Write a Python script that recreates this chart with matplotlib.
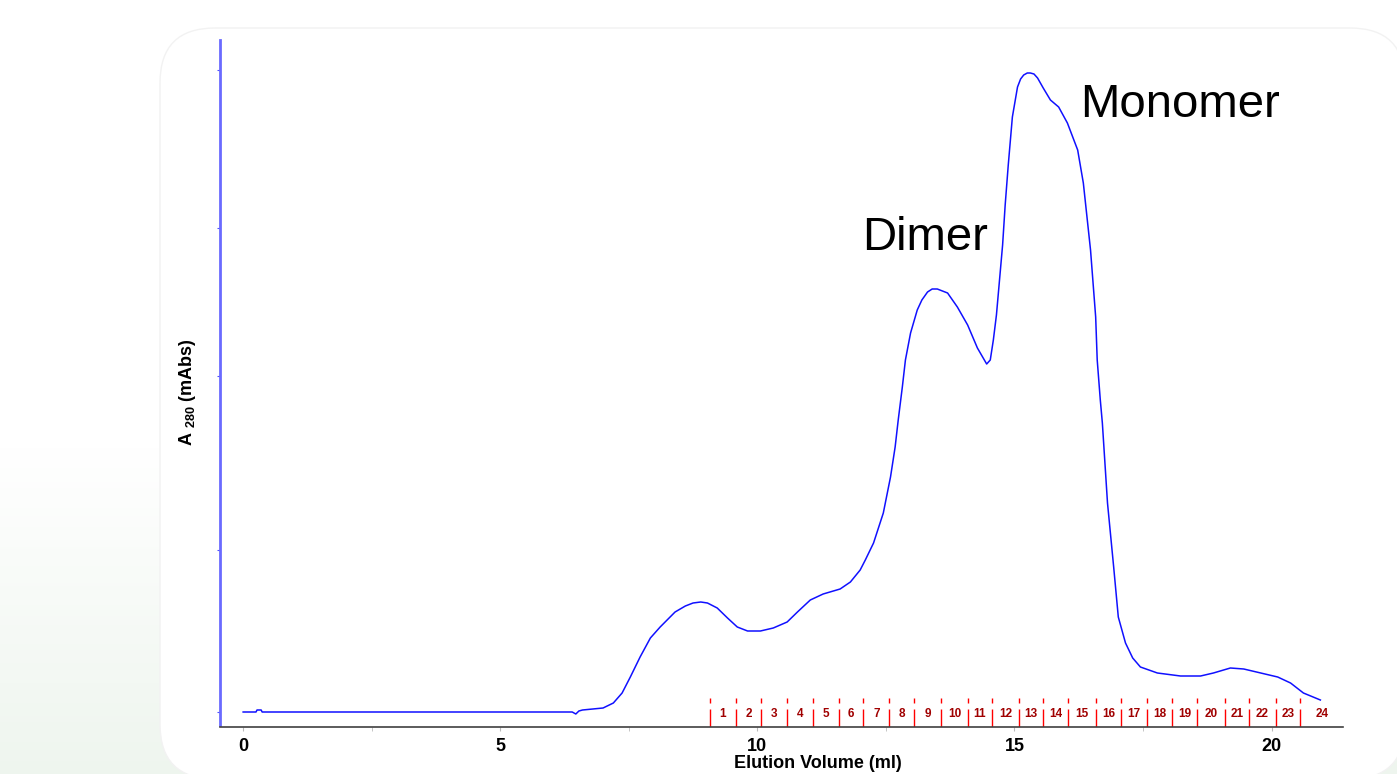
import matplotlib.pyplot as plt
import numpy as np
from matplotlib.patches import FancyBboxPatch
from matplotlib.transforms import IdentityTransform

plt.rcParams["font.family"] = ["Liberation Sans", "DejaVu Sans"]
plt.rcParams["mathtext.fontset"] = "custom"
plt.rcParams["mathtext.bf"] = "Liberation Sans:bold"
plt.rcParams["mathtext.rm"] = "Liberation Sans"

# elution volume (ml) and A280 (mAbs)
volume = [0.00, 0.25, 0.27, 0.35, 0.37, 6.40, 6.47, 6.53, 6.60, 7.00, 7.20, 7.37,
          7.53, 7.72, 7.92, 8.11, 8.40, 8.60, 8.75, 8.90, 9.03, 9.22, 9.42, 9.61,
          9.81, 10.06, 10.31, 10.58, 10.78, 11.03, 11.28, 11.61, 11.81, 12.00,
          12.10, 12.26, 12.45, 12.59, 12.68, 12.74, 12.82, 12.88, 12.98, 13.11,
          13.20, 13.31, 13.40, 13.50, 13.60, 13.70, 13.89, 14.09, 14.28, 14.46,
          14.53, 14.59, 14.65, 14.71, 14.77, 14.82, 14.88, 14.96, 15.06, 15.12,
          15.18, 15.25, 15.31, 15.38, 15.45, 15.56, 15.70, 15.86, 16.03, 16.23,
          16.34, 16.48, 16.58, 16.61, 16.67, 16.71, 16.81, 16.93, 17.02, 17.16,
          17.30, 17.45, 17.78, 18.23, 18.62, 18.87, 19.20, 19.46, 19.79, 20.12,
          20.37, 20.62, 20.95]
a280 = [0, 0, 1, 1, 0, 0, -1, 0.5, 1, 2, 4.5, 9.5,
        17.5, 27.5, 37, 42.5, 50, 53, 54.5, 55, 54.5, 52, 47, 42.5,
        40.5, 40.5, 42, 45, 50, 56, 59, 61.5, 65, 71,
        76, 84.5, 99.5, 117.5, 132.5, 146, 162.5, 176, 189.5, 201,
        206, 210, 211.5, 211.5, 210.5, 209.5, 202.5, 193.5, 182, 174,
        176, 186, 198.5, 216, 233.5, 253.5, 273.5, 297.5, 312.5, 316.5,
        318.5, 319.5, 319.5, 319, 317, 312, 306, 302.5, 294.5, 281,
        264.5, 231, 197.5, 176, 156, 144.5, 104.5, 72.5, 47.5, 34.5,
        27, 22.5, 19.5, 18, 18, 19.5, 22, 21.5, 19.5, 17.5,
        14.5, 9.5, 6]

# fraction collector marks (start of each fraction, ml)
frac_start = [9.07, 9.59, 10.08, 10.58, 11.09, 11.58, 12.06, 12.57, 13.05, 13.58,
              14.09, 14.57, 15.08, 15.56, 16.05, 16.58, 17.08, 17.57, 18.07, 18.56,
              19.09, 19.57, 20.08, 20.56]
frac_labels = [str(i) for i in range(1, 25)]

x_ticks = [0, 5, 10, 15, 20]
y_ticks = [0, 81, 168, 242, 321]

W, H = 1397, 774
fig = plt.figure(figsize=(W / 100, H / 100), dpi=100)

# slide background: white fading to pale green, white rounded panel on top
bg = fig.add_axes([0, 0, 1, 1], zorder=-10)
t = np.linspace(0, 1, 300)[:, None]
grad = np.clip((t - 0.58) / 0.42, 0, 1)
c0 = np.array([1.0, 1.0, 1.0])
c1 = np.array([0.935, 0.962, 0.935])
img = c0 + (c1 - c0) * grad[..., None]
bg.imshow(img, extent=[0, 1, 0, 1], aspect="auto", origin="upper")
bg.axis("off")
panel = FancyBboxPatch((160, -5), 1245, 751, boxstyle="round,pad=0,rounding_size=55",
                       transform=IdentityTransform(), facecolor="white",
                       edgecolor="#f2f2f2", linewidth=1, zorder=-5)
fig.patches.append(panel)

ax = fig.add_axes([220 / W, 1 - 727 / H, 1123 / W, 687 / H])
ax.set_facecolor("none")
ax.plot(volume, a280, color="#1010ff", linewidth=1.1)

ax.set_xlim(-0.45, 21.39)
ax.set_ylim(-7.5, 336)

# fractions
x_end = ax.get_xlim()[1]
for i, xs in enumerate(frac_start):
    ax.vlines(xs, -7.5, 1.5, color="red", linewidth=1)
    ax.vlines(xs, 4.5, 7, color="red", linewidth=1)
    xe = frac_start[i + 1] if i + 1 < len(frac_start) else x_end
    ax.text((xs + xe) / 2, -1.2, frac_labels[i], ha="center", va="center",
            fontsize=8.5, fontweight="bold", color="#a00000")

for s in ["top", "right"]:
    ax.spines[s].set_visible(False)
ax.spines["left"].set_color("#6a6aff")
ax.spines["left"].set_linewidth(2)
ax.spines["left"].set_bounds(-6.5, 336)
ax.spines["bottom"].set_color("#404040")
ax.spines["bottom"].set_linewidth(1.2)

ax.set_xticks(x_ticks)
ax.set_xticks([2.5, 7.5, 12.5, 17.5], minor=True)
ax.tick_params(axis="x", which="both", direction="out", length=3, color="#bbbbbb", pad=5)
ax.tick_params(axis="x", labelsize=13)
for lab in ax.get_xticklabels():
    lab.set_fontweight("bold")
ax.set_yticks(y_ticks)
ax.tick_params(axis="y", direction="out", length=2, color="#5050ff", labelleft=False)

fig.text(188 / W, 1 - 392 / H, r"A $_{\mathbf{280}}$ (mAbs)", rotation=90,
         ha="center", va="center", fontsize=13, fontweight="bold")
fig.text(818 / W, 1 - 755 / H, "Elution Volume (ml)", ha="center", va="top",
         fontsize=13, fontweight="bold")

fig.text(925 / W, 1 - 238 / H, "Dimer", ha="center", va="center", fontsize=34)
fig.text(1180 / W, 1 - 105 / H, "Monomer", ha="center", va="center", fontsize=34)

plt.savefig("out.png", dpi=100)
plt.close()
